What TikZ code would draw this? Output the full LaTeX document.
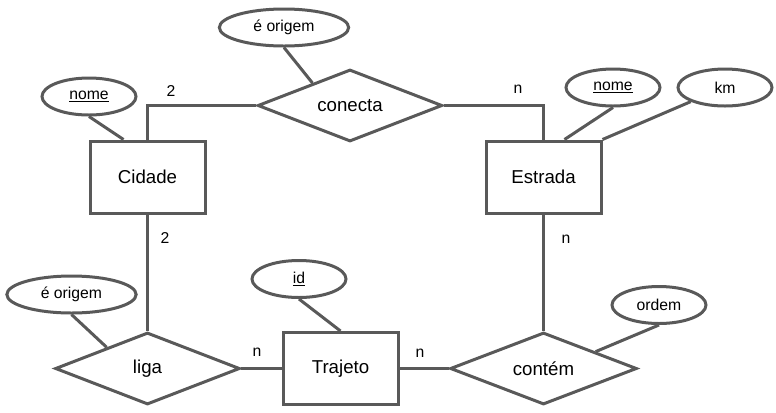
\documentclass[tikz,border=0pt]{standalone}
\usepackage{fontspec}
\setmainfont{Liberation Sans}
\usetikzlibrary{shapes.geometric,calc}
\definecolor{ln}{HTML}{595959}
\begin{document}
\begin{tikzpicture}[x=0.75pt,y=-0.75pt,
  every node/.style={inner sep=0pt,text=black},
  ent/.style={draw=ln,line width=2.25pt,rectangle,minimum width=86.25pt,minimum height=54pt,font=\fontsize{14}{16}\selectfont},
  rel/.style={draw=ln,line width=2.25pt,diamond,shape aspect=2.5,minimum width=138.5pt,minimum height=54pt,font=\fontsize{14}{16}\selectfont},
  attr/.style={draw=ln,line width=2.25pt,ellipse,minimum width=70.5pt,minimum height=27.75pt,font=\fontsize{11.8}{14}\selectfont},
  wideattr/.style={attr,minimum width=97pt},
  card/.style={font=\fontsize{11.8}{14}\selectfont},
  conn/.style={draw=ln,line width=2.25pt}]
\useasboundingbox (0,0) rectangle (776,412);
% entities
\node[ent] (cid) at (147.5,177) {Cidade};
\node[ent] (est) at (543.5,177) {Estrada};
\node[ent] (tra) at (340.5,368.5) {Trajeto};
% relationships
\node[rel] (con) at (350,105.5) {conecta};
\node[rel] (lig) at (147.5,368.5) {liga};
\node[rel,minimum width=140pt] (cnt) at (543.5,368.5) {contém};
% attributes
\node[wideattr] (eo1) at (284,27.5) {é origem};
\node[attr] (nm1) at (89,96.5) {\underline{nome}};
\node[attr] (nm2) at (613,87.5) {\underline{nome}};
\node[attr] (km) at (725,87.5) {km};
\node[wideattr] (eo2) at (71.5,294.5) {é origem};
\node[attr] (id) at (299,279) {\underline{id}};
\node[attr] (ord) at (659,305) {ordem};
% cardinalities
\node[card] (c1) at (171,91) {2};
\node[card] (c2) at (518,89) {n};
\node[card] (c3) at (165,238) {2};
\node[card] (c4) at (566,239) {n};
\node[card] (c5) at (257,352) {n};
\node[card] (c6) at (420,353) {n};
% connectors
\draw[conn] (cid.north) |- (con.west);
\draw[conn] (con.east) -| (est.north);
\draw[conn] (cid.south) -- (lig.north);
\draw[conn] (est.south) -- (cnt.north);
\draw[conn] (lig.east) -- (tra.west);
\draw[conn] (tra.east) -- (cnt.west);
\draw[conn] (eo1.south) -- ($(con.west)!0.6!(con.north)$);
\draw[conn] (nm1.south) -- ($(cid.north west)+(35,0)$);
\draw[conn] (nm2.south) -- ($(est.north west)+(80,0)$);
\draw[conn] (km.south west) -- (est.north east);
\draw[conn] (eo2.south) -- ($(lig.west)!0.565!(lig.north)$);
\draw[conn] (id.south) -- (tra.north);
\draw[conn] (ord.south) -- ($(cnt.north)!0.55!(cnt.east)$);
\end{tikzpicture}
\end{document}
